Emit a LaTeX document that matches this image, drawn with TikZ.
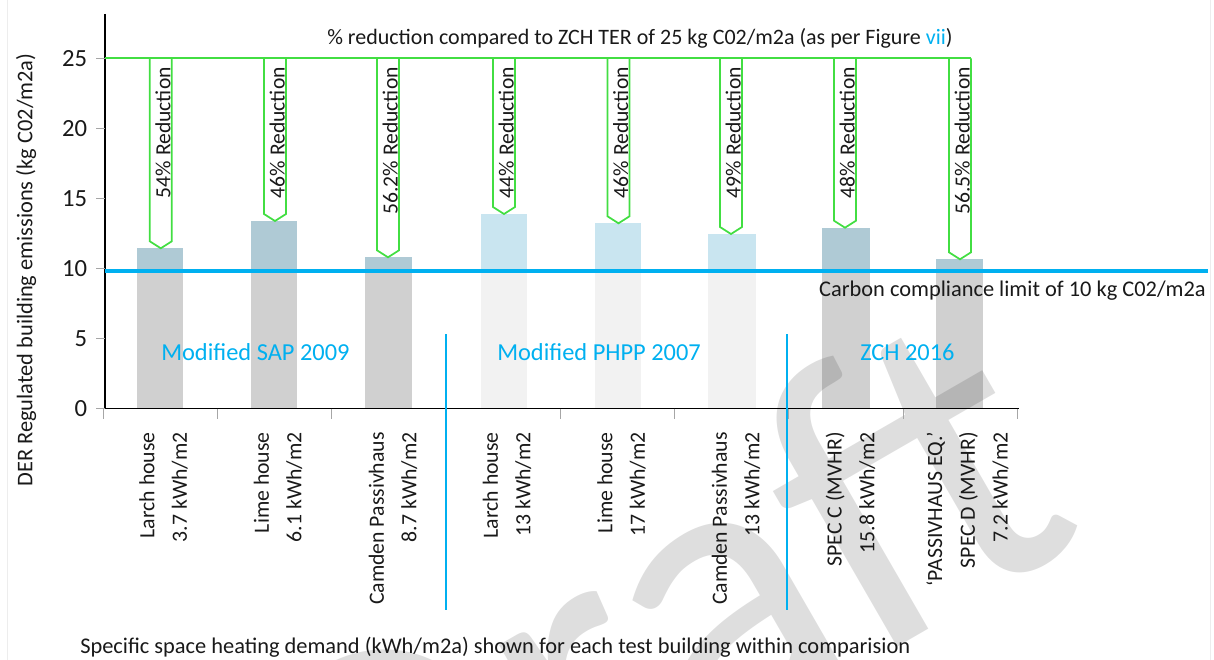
\documentclass[tikz,border=0pt]{standalone}
\usepackage{fontspec}
\setmainfont{Carlito}

\definecolor{barGrey}{RGB}{208,208,208}
\definecolor{barSteel}{RGB}{175,202,213}
\definecolor{barPale}{RGB}{242,242,242}
\definecolor{barIce}{RGB}{201,229,240}
\definecolor{limitBlue}{RGB}{0,176,240}
\definecolor{calloutGreen}{RGB}{66,222,66}
\definecolor{inkGrey}{RGB}{25,25,25}

\begin{document}
\begin{tikzpicture}[x=.75pt,y=-.75pt,
		every node/.style={text=inkGrey,inner sep=0pt},
		lbl/.style={font=\fontsize{16.8}{20}\selectfont},
		num/.style={anchor=east,font=\fontsize{18.5}{22}\selectfont},
		tick/.style={black!35,line width=.75pt},
		callout/.style={draw=calloutGreen,line width=1.3pt,line join=miter},
		pct/.style={rotate=90,anchor=base east,font=\fontsize{16.2}{20}\selectfont},
		cat/.style={rotate=90,anchor=east,align=right,font=\fontsize{16.3}{24.5}\selectfont},
		grp/.style={anchor=base west,text=limitBlue,font=\fontsize{18.3}{22}\selectfont},
		sep/.style={limitBlue,line width=1.5pt}]

			\useasboundingbox (0,0) rectangle (1214,660);
			\draw[black!7,line width=.75pt] (7,0) -- (7,660);
			\draw[black!7,line width=.75pt] (1210,0) -- (1210,660);

			\fill[barGrey] (137,271) rectangle (183,408.5);
			\fill[barSteel] (137,248.3) rectangle (183,271);
			\fill[barGrey] (251,271) rectangle (297,408.5);
			\fill[barSteel] (251,221) rectangle (297,271);
			\fill[barGrey] (365,271) rectangle (412,408.5);
			\fill[barSteel] (365,257.3) rectangle (412,271);

			\fill[barPale] (481,271) rectangle (527,408.5);
			\fill[barIce] (481,214) rectangle (527,271);
			\fill[barPale] (595,271) rectangle (641,408.5);
			\fill[barIce] (595,223.3) rectangle (641,271);
			\fill[barPale] (708,271) rectangle (756,408.5);
			\fill[barIce] (708,234) rectangle (756,271);

			\fill[barGrey] (822,271) rectangle (870,408.5);
			\fill[barSteel] (822,227.7) rectangle (870,271);
			\fill[barGrey] (936,271) rectangle (983,408.5);
			\fill[barSteel] (936,259.3) rectangle (983,271);

			\begin{scope}
				\clip (0,0) rectangle (1214,660);
				\node[text=black,opacity=.13,rotate=30,anchor=base east,font=\fontsize{315}{315}\selectfont] (draft) at (1092,535) {Draft};
			\end{scope}

			\draw[black,line width=1pt] (105,14) -- (105,408.5) -- (1019,408.5);
			\foreach \ty/\tv in {58.5/25,128.5/20,198.5/15,268.5/10,338.5/5,408.5/0} {
				\draw[tick] (96,\ty) -- (105,\ty);
				\node[num] at (87.5,\ty) {\tv};
			}
			\foreach \tx in {103,217,331.3,445.6,560,674.3,788.6,903,1017.3}
				\draw[tick] (\tx,408.5) -- (\tx,419);

			\draw[calloutGreen,line width=1.5pt] (105,58.5) -- (971,58.5);
			\draw[callout] (149.8,58.5) -- (149.8,241.3) -- (160.8,248.3) -- (171.8,241.3) -- (171.8,58.5);
			\draw[callout] (264,58.5) -- (264,214) -- (275,221) -- (286,214) -- (286,58.5);
			\draw[callout] (377,58.5) -- (377,250.3) -- (388,257.3) -- (399,250.3) -- (399,58.5);
			\draw[callout] (493,58.5) -- (493,207) -- (504,214) -- (515,207) -- (515,58.5);
			\draw[callout] (607.5,58.5) -- (607.5,216.3) -- (618.5,223.3) -- (629.5,216.3) -- (629.5,58.5);
			\draw[callout] (720,58.5) -- (720,227) -- (731,234) -- (742,227) -- (742,58.5);
			\draw[callout] (834,58.5) -- (834,220.7) -- (845,227.7) -- (856,220.7) -- (856,58.5);
			\draw[callout] (949,58.5) -- (949,252.3) -- (960,259.3) -- (971,252.3) -- (971,58.5);

			\node[pct] (p1) at (170.3,67) {54\% Reduction};
			\node[pct] (p2) at (284.5,67) {46\% Reduction};
			\node[pct] (p3) at (397.5,67) {56.2\% Reduction};
			\node[pct] (p4) at (513.5,67) {44\% Reduction};
			\node[pct] (p5) at (628,67) {46\% Reduction};
			\node[pct] (p6) at (740.5,67) {49\% Reduction};
			\node[pct] (p7) at (854.5,67) {48\% Reduction};
			\node[pct] (p8) at (969.5,67) {56.5\% Reduction};

			\draw[limitBlue,line width=2.3pt] (105,271) -- (1208,271);
			\draw[sep] (446,334) -- (446,610);
			\draw[sep] (787,334) -- (787,610);

			\node[lbl,anchor=base west,font=\fontsize{16.5}{20}\selectfont] (ter) at (327,45) {\% reduction compared to ZCH TER of 25 kg C02/m2a (as per Figure \textcolor{limitBlue}{vii})};
			\node[lbl,anchor=base east] (limit) at (1206,296.7) {Carbon compliance limit of 10 kg C02/m2a};
			\node[grp] (sap) at (161,360) {Modified SAP 2009};
			\node[grp] (phpp) at (497,360) {Modified PHPP 2007};
			\node[grp] (zch) at (860,360) {ZCH 2016};

			\node[cat] (c1) at (163.5,432) {Larch house\\3.7 kWh/m2};
			\node[cat] (c2) at (278,432) {Lime house\\6.1 kWh/m2};
			\node[cat] (c3) at (393,432) {Camden Passivhaus\\8.7 kWh/m2};
			\node[cat] (c4) at (507,432) {Larch house\\13 kWh/m2};
			\node[cat] (c5) at (621.5,432) {Lime house\\17 kWh/m2};
			\node[cat] (c6) at (736,432) {Camden Passivhaus\\13 kWh/m2};
			\node[cat] (c7) at (850.5,432) {SPEC C (MVHR)\\15.8 kWh/m2};
			\node[cat] (c8) at (967.5,432) {‘PASSIVHAUS EQ.’\\SPEC D (MVHR)\\7.2 kWh/m2};

			\node[lbl,rotate=90] (yaxis) at (26,270) {DER Regulated building emissions (kg C02/m2a)};
			\node[lbl,anchor=base west] (xaxis) at (80,653.5) {Specific space heating demand (kWh/m2a) shown for each test building within comparision};

		\end{tikzpicture}
\end{document}
